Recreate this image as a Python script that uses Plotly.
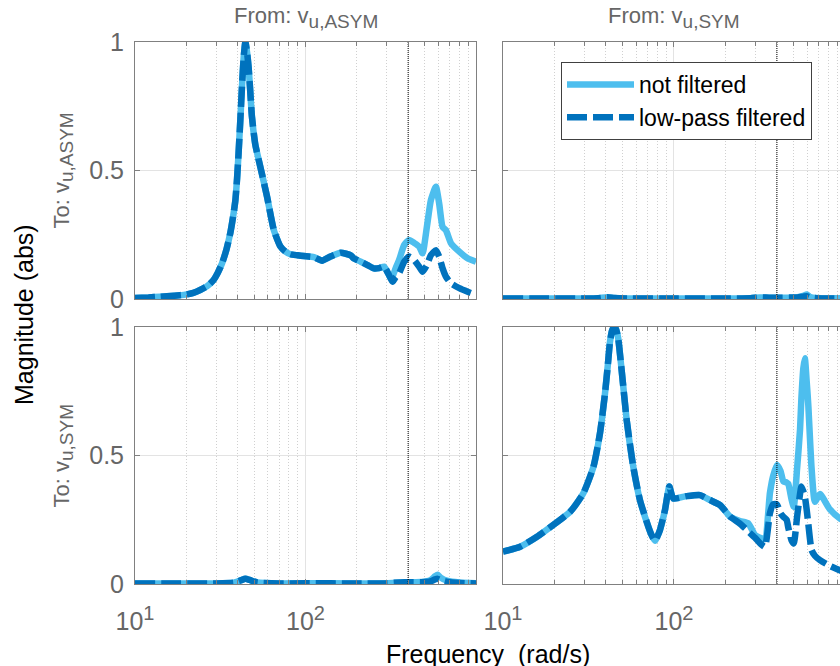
import plotly.graph_objects as go

# ---------------- data (frequency in rad/s, magnitude in abs) ----------------
# To: v_u,ASYM  <-  From: v_u,ASYM
freq_aa = [10, 12, 14, 17, 19.7, 22, 24.1, 26.5, 28.9, 30.5, 32.4, 34.3, 36.2, 37.5,
           38.8, 39.7, 40.5, 41.5, 42.4, 43.4, 44.4, 45.4, 46.4, 47.4, 48.5, 50.8,
           54.3, 59.5, 65.2, 71.3, 76, 81.6, 90, 97.7, 112, 125, 140, 161, 184, 192,
           211, 231, 252, 270, 289, 305, 316, 324, 338, 354, 379, 405, 434, 464, 486,
           515, 544, 582, 608, 637, 666, 713, 798, 894, 1000]
raw_aa = [0.004, 0.006, 0.009, 0.013, 0.017, 0.024, 0.035, 0.05, 0.074, 0.1, 0.139, 0.19,
          0.256, 0.315, 0.385, 0.47, 0.567, 0.70, 0.826, 0.94, 1.0, 0.96, 0.90, 0.81,
          0.71, 0.60, 0.515, 0.398, 0.268, 0.204, 0.185, 0.174, 0.17, 0.167, 0.163,
          0.149, 0.165, 0.18, 0.17, 0.158, 0.145, 0.132, 0.119, 0.12, 0.126, 0.1, 0.08,
          0.088, 0.12, 0.152, 0.21, 0.23, 0.218, 0.204, 0.178, 0.28, 0.385, 0.437,
          0.372, 0.28, 0.268, 0.217, 0.184, 0.158, 0.145]
lp_aa = [0.004, 0.006, 0.009, 0.013, 0.017, 0.024, 0.035, 0.05, 0.074, 0.1, 0.139, 0.19,
         0.256, 0.315, 0.385, 0.47, 0.567, 0.70, 0.826, 0.94, 1.0, 0.96, 0.90, 0.81,
         0.71, 0.60, 0.515, 0.398, 0.268, 0.204, 0.185, 0.174, 0.17, 0.167, 0.163,
         0.149, 0.165, 0.18, 0.17, 0.158, 0.145, 0.132, 0.119, 0.12, 0.126, 0.1, 0.08,
         0.067, 0.085, 0.1, 0.145, 0.165, 0.152, 0.126, 0.106, 0.132, 0.171, 0.19,
         0.165, 0.119, 0.087, 0.061, 0.042, 0.028, 0.016]

# To: v_u,ASYM  <-  From: v_u,SYM
freq_as = [10, 30, 36, 40.5, 45, 55, 100, 200, 280, 318, 360, 420, 520, 570, 597, 625,
           680, 1000]
raw_as = [0.002, 0.002, 0.003, 0.007, 0.004, 0.002, 0.002, 0.002, 0.003, 0.006, 0.005,
          0.005, 0.006, 0.012, 0.018, 0.008, 0.004, 0.003]
lp_as = [0.002, 0.002, 0.003, 0.007, 0.004, 0.002, 0.002, 0.002, 0.003, 0.006, 0.005,
         0.005, 0.006, 0.009, 0.011, 0.006, 0.003, 0.002]

# To: v_u,SYM  <-  From: v_u,ASYM
freq_sa = [10, 30, 38, 42, 44.4, 47, 52, 70, 100, 200, 300, 360, 405, 480, 540, 575,
           596, 620, 683, 800, 1000]
raw_sa = [0.002, 0.002, 0.005, 0.015, 0.02, 0.016, 0.006, 0.002, 0.003, 0.002, 0.003,
          0.006, 0.007, 0.008, 0.015, 0.03, 0.036, 0.025, 0.012, 0.006, 0.003]
lp_sa = [0.002, 0.002, 0.005, 0.015, 0.02, 0.016, 0.006, 0.002, 0.003, 0.002, 0.003,
         0.006, 0.007, 0.007, 0.01, 0.018, 0.02, 0.015, 0.008, 0.004, 0.002]

# To: v_u,SYM  <-  From: v_u,SYM
freq_ss = [10, 12.6, 15.8, 19.7, 24.7, 29.5, 33.8, 36.9, 39.5, 41, 42.2, 43.4, 44.6,
           45.9, 47.2, 49.4, 52.9, 57.8, 63.2, 70.8, 74, 77.4, 80, 82.8, 88.6, 93.9, 99,
           118.7, 142, 162, 186, 213, 243, 272, 298, 318, 340, 364, 380, 400, 420, 436,
           456, 466, 487, 502, 525, 546, 556, 571, 583, 597, 610, 638, 667, 714, 817,
           935, 1000]
raw_ss = [0.126, 0.145, 0.184, 0.23, 0.281, 0.353, 0.456, 0.586, 0.742, 0.85, 0.94,
          0.985, 1.0, 0.99, 0.955, 0.833, 0.638, 0.456, 0.327, 0.223, 0.19, 0.168, 0.185,
          0.21, 0.288, 0.379, 0.333, 0.342, 0.346, 0.327, 0.307, 0.262, 0.245, 0.236,
          0.19, 0.18, 0.175, 0.354, 0.42, 0.463, 0.44, 0.40, 0.395, 0.39, 0.33, 0.30,
          0.45, 0.60, 0.72, 0.84, 0.878, 0.79, 0.70, 0.45, 0.32, 0.35, 0.29, 0.255, 0.245]
lp_ss = [0.126, 0.145, 0.184, 0.23, 0.281, 0.353, 0.456, 0.586, 0.742, 0.85, 0.94,
         0.985, 1.0, 0.99, 0.955, 0.833, 0.638, 0.456, 0.327, 0.223, 0.19, 0.168, 0.185,
         0.21, 0.288, 0.379, 0.333, 0.342, 0.346, 0.327, 0.307, 0.262, 0.235, 0.205,
         0.18, 0.159, 0.145, 0.275, 0.31, 0.31, 0.275, 0.262, 0.25, 0.22, 0.17, 0.158,
         0.262, 0.35, 0.379, 0.36, 0.34, 0.29, 0.236, 0.132, 0.11, 0.093, 0.07, 0.053,
         0.045]

# frequency marked by the dotted reference line
f_mark = 400

series_names = ["not filtered", "low-pass filtered"]
SUB = "<sub><span style='font-size:19px'>{}</span></sub>"
col_titles = ["From: v" + SUB.format("u,ASYM"), "From: v" + SUB.format("u,SYM")]
row_titles = ["To: v" + SUB.format("u,ASYM"), "To: v" + SUB.format("u,SYM")]
SUP = "<sup><span style='font-size:20px'>{}</span></sup>"
x_tickvals = [10, 100]
x_ticktext = ["10" + SUP.format(1), "10" + SUP.format(2)]
x_minor = [20, 30, 40, 50, 60, 70, 80, 90, 200, 300, 400, 500, 600, 700, 800, 900]
y_tickvals = [0, 0.5, 1]

# ---------------- styling ----------------
W, H = 840, 666
FONT = "Liberation Sans, Arial, Helvetica, sans-serif"
C_RAW = "#4DBEEE"
C_LP = "#0072BD"
AX = "#808080"
TXT = "#666666"
GRID = "#e3e3e3"
MINOR_GRID = "#d0d0d0"
LW = 6.5

col_dom = [[135 / W, 476 / W], [503 / W, 1.0]]
row_dom = [[1 - 299 / H, 1 - 42 / H], [1 - 584 / H, 1 - 327 / H]]
col_range = [[1, 3], [1, 2.971]]
col_center = [305.5 / W, 673.5 / W]

panels = {
    (0, 0): (freq_aa, raw_aa, lp_aa),
    (0, 1): (freq_as, raw_as, lp_as),
    (1, 0): (freq_sa, raw_sa, lp_sa),
    (1, 1): (freq_ss, raw_ss, lp_ss),
}

fig = go.Figure()
layout = {}
first = True
for (r, c), (f, raw, lp) in panels.items():
    idx = r * 2 + c + 1
    sfx = "" if idx == 1 else str(idx)
    xa, ya = "x" + sfx, "y" + sfx

    fig.add_trace(go.Scatter(
        x=f, y=raw, xaxis=xa, yaxis=ya, mode="lines", name=series_names[0],
        line=dict(color=C_RAW, width=LW, shape="spline", smoothing=0.5),
        showlegend=first, legendgroup="raw", hoverinfo="skip"))
    fig.add_trace(go.Scatter(
        x=f, y=lp, xaxis=xa, yaxis=ya, mode="lines", name=series_names[1],
        line=dict(color=C_LP, width=LW, dash="20px,6px", shape="spline", smoothing=0.5),
        showlegend=first, legendgroup="lp", hoverinfo="skip"))
    fig.add_trace(go.Scatter(
        x=[f_mark, f_mark], y=[0, 1], xaxis=xa, yaxis=ya, mode="lines",
        line=dict(color="black", width=1, dash="1px,1px"),
        showlegend=False, hoverinfo="skip"))
    first = False

    layout["xaxis" + sfx] = dict(
        type="log", domain=col_dom[c], anchor=ya, range=col_range[c],
        showline=True, linecolor=AX, linewidth=1, mirror="allticks",
        ticks="inside", ticklen=5, tickcolor=AX,
        tickmode="array", tickvals=x_tickvals, ticktext=x_ticktext,
        showticklabels=(r == 1), tickfont=dict(family=FONT, size=25, color=TXT),
        ticklabelstandoff=15,
        showgrid=True, gridcolor=GRID, gridwidth=1, zeroline=False,
        automargin=False, fixedrange=True,
        minor=dict(tickmode="array", tickvals=x_minor, ticks="inside", ticklen=4,
                   tickcolor=AX, showgrid=True, gridcolor=MINOR_GRID, gridwidth=1,
                   griddash="1px,2px"),
    )
    layout["yaxis" + sfx] = dict(
        domain=row_dom[r], anchor=xa, range=[0, 1],
        showline=True, linecolor=AX, linewidth=1,
        mirror="allticks" if c == 0 else False,
        ticks="inside", ticklen=5, tickcolor=AX,
        tickmode="array", tickvals=y_tickvals,
        showticklabels=(c == 0), tickfont=dict(family=FONT, size=25, color=TXT),
        ticklabelstandoff=5,
        showgrid=True, gridcolor=GRID, gridwidth=1, zeroline=False,
        automargin=False, fixedrange=True,
    )

annotations = []
for c in range(2):
    annotations.append(dict(
        text=col_titles[c], xref="paper", yref="paper", x=col_center[c],
        y=1 - 18 / H, xanchor="center", yanchor="middle", showarrow=False,
        font=dict(family=FONT, size=22, color=TXT)))
for r in range(2):
    annotations.append(dict(
        text=row_titles[r], xref="paper", yref="paper", x=63 / W,
        y=(row_dom[r][0] + row_dom[r][1]) / 2, xanchor="center", yanchor="middle",
        textangle=-90, showarrow=False, font=dict(family=FONT, size=22, color=TXT)))
annotations.append(dict(
    text="Magnitude (abs)", xref="paper", yref="paper", x=24 / W, y=1 - 315 / H,
    xanchor="center", yanchor="middle", textangle=-90, showarrow=False,
    font=dict(family=FONT, size=25, color="black")))
annotations.append(dict(
    text="Frequency\u00a0 (rad/s)", xref="paper", yref="paper", x=488 / W,
    y=1 - 654 / H, xanchor="center", yanchor="middle", showarrow=False,
    font=dict(family=FONT, size=25, color="black")))

fig.update_layout(
    width=W, height=H, template="none",
    margin=dict(l=0, r=0, t=0, b=0, pad=0),
    paper_bgcolor="white", plot_bgcolor="white",
    font=dict(family=FONT, color=TXT),
    showlegend=True,
    legend=dict(x=561 / W, y=1 - 62 / H, xanchor="left", yanchor="top",
                bgcolor="white", bordercolor="#404040", borderwidth=1,
                font=dict(family=FONT, size=23, color="black"),
                itemwidth=67, tracegroupgap=0,
                entrywidth=185, entrywidthmode="pixels"),
    annotations=annotations,
    **layout,
)

# let the thick curves run over the axes frame instead of being cut in half
unclip = ("document.querySelectorAll('.cartesianlayer .plot').forEach("
          "function(g){g.removeAttribute('clip-path');});")

fig.write_html("out.html", include_plotlyjs=True, post_script=unclip,
               config={"displayModeBar": False, "staticPlot": True})
